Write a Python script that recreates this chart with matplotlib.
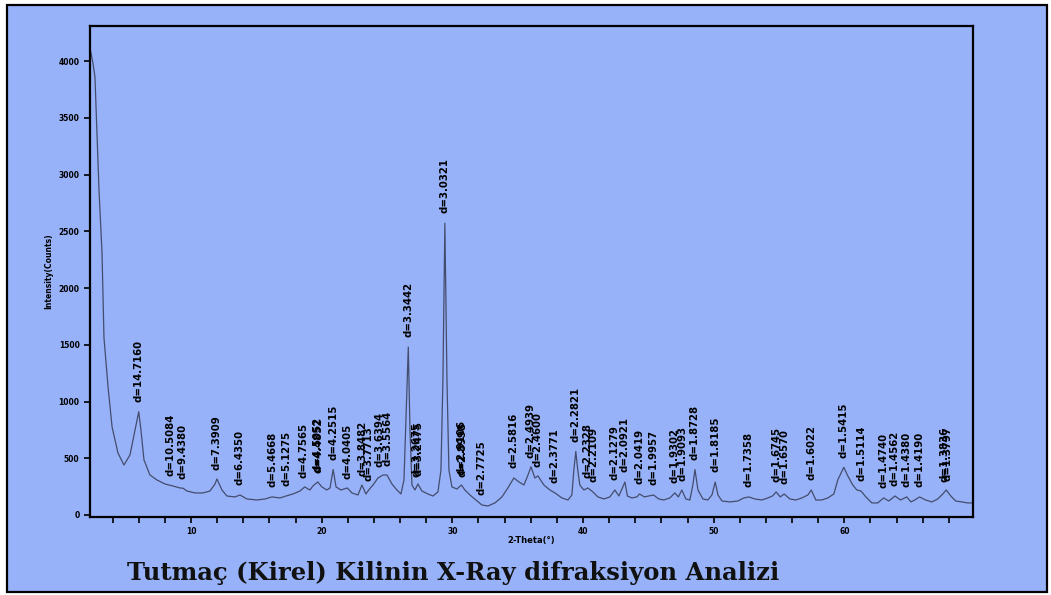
import numpy as np
import matplotlib
matplotlib.use('Agg')
import matplotlib.pyplot as plt
from matplotlib.patches import Rectangle
from matplotlib.ticker import MultipleLocator

# XRD taraması: 2-Theta (derece) ve sayım değerleri
two_theta = [2.30, 2.50, 2.65, 2.96, 3.19, 3.34, 3.65, 3.96, 4.41, 4.87,
             5.33, 5.64, 6.00, 6.17, 6.40, 6.86, 7.40, 8.01, 8.40, 8.62,
             9.16, 9.40, 9.69, 10.31, 10.92, 11.45, 11.84, 11.98, 12.37, 12.75,
             13.37, 13.75, 14.28, 15.05, 15.66, 16.20, 16.81, 17.27, 17.80, 18.34,
             18.70, 19.10, 19.33, 19.70, 20.02, 20.40, 20.64, 20.88, 21.10, 21.48,
             21.96, 22.32, 22.78, 23.08, 23.39, 23.60, 23.93, 24.31, 24.69, 25.00,
             25.38, 25.76, 26.07, 26.30, 26.45, 26.63, 26.76, 26.91, 27.14, 27.37,
             27.67, 28.13, 28.52, 28.90, 29.13, 29.28, 29.43, 29.59, 29.74, 29.97,
             30.35, 30.70, 30.96, 31.35, 31.80, 32.26, 32.72, 33.26, 33.80, 34.25,
             34.71, 35.10, 35.48, 35.79, 36.02, 36.32, 36.55, 37.01, 37.47, 37.85,
             38.39, 38.85, 39.15, 39.30, 39.45, 39.60, 39.76, 40.07, 40.37, 40.76,
             41.14, 41.60, 42.06, 42.44, 42.75, 43.21, 43.40, 43.74, 44.12, 44.33,
             44.70, 45.40, 45.80, 46.19, 46.65, 47.03, 47.30, 47.57, 47.87, 48.18,
             48.41, 48.57, 48.80, 49.18, 49.56, 49.87, 50.12, 50.33, 50.64, 51.25,
             51.85, 52.31, 52.69, 53.15, 53.69, 54.15, 54.50, 54.78, 55.10, 55.40,
             55.83, 56.29, 56.75, 57.21, 57.47, 57.82, 58.28, 58.74, 59.20, 59.50,
             59.96, 60.27, 60.65, 60.96, 61.28, 61.65, 62.11, 62.56, 63.01, 63.40,
             63.88, 64.30, 64.78, 65.10, 65.39, 65.76, 66.22, 66.70, 67.15, 67.54,
             67.80, 68.15, 68.53, 68.99, 69.45, 69.83]
counts = [4100, 3980, 3860, 2860, 2310, 1560, 1130, 775, 546, 440,
          529, 705, 910, 749, 485, 352, 308, 273, 262, 255,
          238, 235, 211, 194, 194, 211, 273, 317, 220, 167,
          159, 176, 141, 132, 141, 159, 150, 167, 185, 211,
          247, 220, 255, 291, 247, 220, 238, 400, 247, 220,
          238, 194, 176, 264, 185, 220, 264, 326, 352, 352,
          273, 220, 185, 308, 837, 1480, 749, 264, 220, 273,
          211, 185, 167, 203, 396, 1189, 2572, 1189, 396, 247,
          229, 264, 220, 176, 132, 88, 79, 106, 159, 238,
          326, 291, 264, 352, 425, 326, 344, 264, 220, 194,
          150, 132, 176, 396, 560, 396, 264, 220, 238, 203,
          159, 141, 159, 220, 167, 290, 167, 150, 159, 185,
          159, 176, 141, 132, 150, 194, 159, 220, 141, 132,
          264, 400, 220, 141, 132, 176, 290, 176, 123, 115,
          123, 150, 159, 141, 132, 150, 167, 203, 159, 185,
          141, 132, 150, 176, 220, 132, 132, 150, 185, 308,
          420, 344, 264, 220, 211, 159, 106, 106, 150, 123,
          167, 132, 159, 115, 132, 159, 132, 115, 141, 185,
          220, 167, 123, 115, 106, 106]

# etiketlenen pikler: d-aralıkları ve 2-Theta konumları
peak_labels = ["d=14.7160", "d=10.5084", "d=9.4380", "d=7.3909", "d=6.4350",
               "d=5.4668", "d=5.1275", "d=4.7565", "d=4.5052", "d=4.4852",
               "d=4.2515", "d=4.0405", "d=3.8482", "d=3.7713", "d=3.6394",
               "d=3.5564", "d=3.3442", "d=3.2675", "d=3.2475", "d=3.0321",
               "d=2.9106", "d=2.8998", "d=2.7725", "d=2.5816", "d=2.4939",
               "d=2.4600", "d=2.3771", "d=2.2821", "d=2.2328", "d=2.2109",
               "d=2.1279", "d=2.0921", "d=2.0419", "d=1.9957", "d=1.9302",
               "d=1.9093", "d=1.8728", "d=1.8185", "d=1.7358", "d=1.6745",
               "d=1.6570", "d=1.6022", "d=1.5415", "d=1.5114", "d=1.4740",
               "d=1.4562", "d=1.4380", "d=1.4190", "d=1.3836", "d=1.3797"]
peak_pos = [6.00, 8.41, 9.36, 11.96, 13.75,
            16.20, 17.28, 18.64, 19.69, 19.78,
            20.88, 21.98, 23.09, 23.57, 24.44,
            25.02, 26.63, 27.27, 27.44, 29.43,
            30.69, 30.81, 32.26, 34.72, 35.98,
            36.50, 37.81, 39.45, 40.36, 40.78,
            42.45, 43.21, 44.33, 45.41, 47.04,
            47.59, 48.57, 50.12, 52.69, 54.78,
            55.40, 57.47, 59.96, 61.28, 63.01,
            63.88, 64.78, 65.76, 67.66, 67.87]

y_ticks = [0, 500, 1000, 1500, 2000, 2500, 3000, 3500, 4000]
x_ticks = [10, 20, 30, 40, 50, 60]

bg = '#97b2f9'
W, H = 1051, 595

fig = plt.figure(figsize=(W / 100, H / 100), dpi=100, facecolor='white')
# mavi zemin ve siyah çerçeve (eksenlerin arkasında)
fig.patches.append(Rectangle((7 / W, 1 - 592 / H), (1047 - 7) / W, (592 - 5) / H,
                             transform=fig.transFigure, facecolor=bg,
                             edgecolor='black', lw=1.6, zorder=-5))

ax = fig.add_axes([90 / W, 1 - 517 / H, (973 - 90) / W, (517 - 26) / H])
ax.set_facecolor(bg)
ax.set_zorder(2)

ax.plot(two_theta, counts, color='#30334a', lw=0.9, alpha=0.8)

tt = np.array(two_theta)
cc = np.array(counts)
for lab, pos in zip(peak_labels, peak_pos):
    yv = np.interp(pos, tt, cc)
    ax.annotate(lab, xy=(pos, yv), xytext=(0, 7), textcoords='offset points',
                rotation=90, ha='center', va='bottom', fontsize=7.3,
                fontweight='bold', color='black')

ax.set_xlim(2.27, 69.85)
ax.set_ylim(-18, 4310)
ax.set_xticks(x_ticks)
ax.xaxis.set_minor_locator(MultipleLocator(2))
ax.set_yticks(y_ticks)
ax.tick_params(axis='both', which='both', direction='out', length=4, width=1.2,
               labelsize=5.5, colors='black')
for t in ax.get_xticklabels() + ax.get_yticklabels():
    t.set_fontweight('bold')
for sp in ax.spines.values():
    sp.set_linewidth(1.6)

ax.set_ylabel('Intensity(Counts)', fontsize=5.5, fontweight='bold', labelpad=4)
ax.set_xlabel('2-Theta(°)', fontsize=6, fontweight='bold', labelpad=0)

fig.text(453 / W, 1 - 573 / H, 'Tutmaç (Kirel) Kilinin X-Ray difraksiyon Analizi',
         ha='center', va='center', fontsize=17.5, fontweight='bold',
         family='DejaVu Serif', color='#111111')

fig.savefig('out.png', dpi=100, facecolor=fig.get_facecolor())
